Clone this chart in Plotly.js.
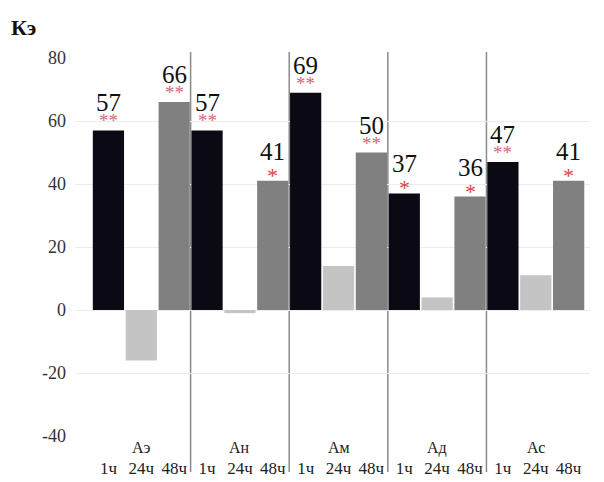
<!DOCTYPE html>
<html>
<head>
<meta charset="utf-8">
<script src="https://cdn.plot.ly/plotly-3.0.1.min.js"></script>
<style>
  html, body { margin: 0; padding: 0; background: #fff; }
  #chart { width: 604px; height: 482px; }
</style>
</head>
<body>
<div id="chart"></div>
<script>
// Groups and time points
const groups = ['Аэ', 'Ан', 'Ам', 'Ад', 'Ас'];
const hours = ['1ч', '24ч', '48ч'];

// Кэ values per group for each time point
const k1h = [57, 57, 69, 37, 47];
const k24h = [-16, -1, 14, 4, 11];
const k48h = [66, 41, 50, 36, 41];

// Significance marks shown over the 1ч and 48ч bars
const sig1h = ['**', '**', '**', '*', '**'];
const sig48h = ['**', '*', '**', '*', '*'];

const yTicks = [-40, -20, 0, 20, 40, 60, 80];
const yTickText = ['-40', '-20', '0', '20', '40', '60', '80'];

const serif = 'Liberation Serif, Times New Roman, serif';
const colors = ['#0b0a14', '#c4c4c4', '#808080'];
const series = [k1h, k24h, k48h];

// Each bar sits at group*3 + hour index
const pos = (g, h) => g * 3 + h;

const traces = series.map((vals, h) => ({
  type: 'bar',
  x: groups.map((_, g) => pos(g, h)),
  y: vals,
  width: 0.95,
  marker: { color: colors[h], line: { width: 0 } },
  name: hours[h],
  hoverinfo: 'skip'
}));

const tickvals = [];
const ticktext = [];
groups.forEach((_, g) => hours.forEach((hr, h) => { tickvals.push(pos(g, h)); ticktext.push(hr); }));

const annotations = [];
// Value labels and significance stars
[[k1h, sig1h, 0], [k48h, sig48h, 2]].forEach(([vals, sig, h]) => {
  vals.forEach((v, g) => {
    const single = sig[g] === '*';
    annotations.push({
      x: pos(g, h), y: v, xref: 'x', yref: 'y',
      text: String(v), showarrow: false,
      yanchor: 'bottom', yshift: single ? 14 : 12,
      font: { family: serif, size: 25, color: '#111' }
    });
    annotations.push({
      x: pos(g, h), y: v, xref: 'x', yref: 'y',
      text: sig[g], showarrow: false,
      yanchor: 'bottom', yshift: single ? -9 : -3,
      font: { family: serif, size: single ? 22 : 19, color: single ? '#e0403f' : '#d0687a' }
    });
  });
});
// Group names under the axis
groups.forEach((name, g) => {
  annotations.push({
    x: pos(g, 1), y: 0, xref: 'x', yref: 'paper',
    text: name, showarrow: false, yanchor: 'top', yshift: -1,
    font: { family: serif, size: 16, color: '#222' }
  });
});
// Axis title at the top-left corner
annotations.push({
  x: -0.128, y: 1.08, xref: 'paper', yref: 'paper',
  xanchor: 'left', yanchor: 'middle',
  text: '<b>Кэ</b>', showarrow: false,
  font: { family: serif, size: 22, color: '#111' }
});

// Vertical separators between groups
const shapes = [1, 2, 3, 4].map(g => ({
  type: 'line', layer: 'below',
  x0: g * 3 - 0.5, x1: g * 3 - 0.5, xref: 'x',
  y0: -0.095, y1: 1.016, yref: 'paper',
  line: { color: '#8a8a8a', width: 1.5 }
}));

const layout = {
  width: 604, height: 482,
  margin: { l: 75, r: 14, t: 58, b: 46 },
  paper_bgcolor: '#fff', plot_bgcolor: '#fff',
  barmode: 'overlay',
  showlegend: false,
  xaxis: {
    range: [-1.017, 14.65],
    tickvals: tickvals, ticktext: ticktext,
    tickfont: { family: serif, size: 17, color: '#222' },
    ticks: '', showgrid: false, zeroline: false, showline: false,
    ticklabelstandoff: 20, fixedrange: true
  },
  yaxis: {
    range: [-40, 80],
    tickvals: yTicks, ticktext: yTickText,
    tickfont: { family: serif, size: 18, color: '#333' },
    showgrid: true, gridcolor: '#ececec', gridwidth: 1,
    zeroline: false, showline: false, ticks: '',
    ticklabelstandoff: 8, fixedrange: true
  },
  annotations: annotations,
  shapes: shapes
};

Plotly.newPlot('chart', traces, layout, { displayModeBar: false, staticPlot: true });
</script>
</body>
</html>
